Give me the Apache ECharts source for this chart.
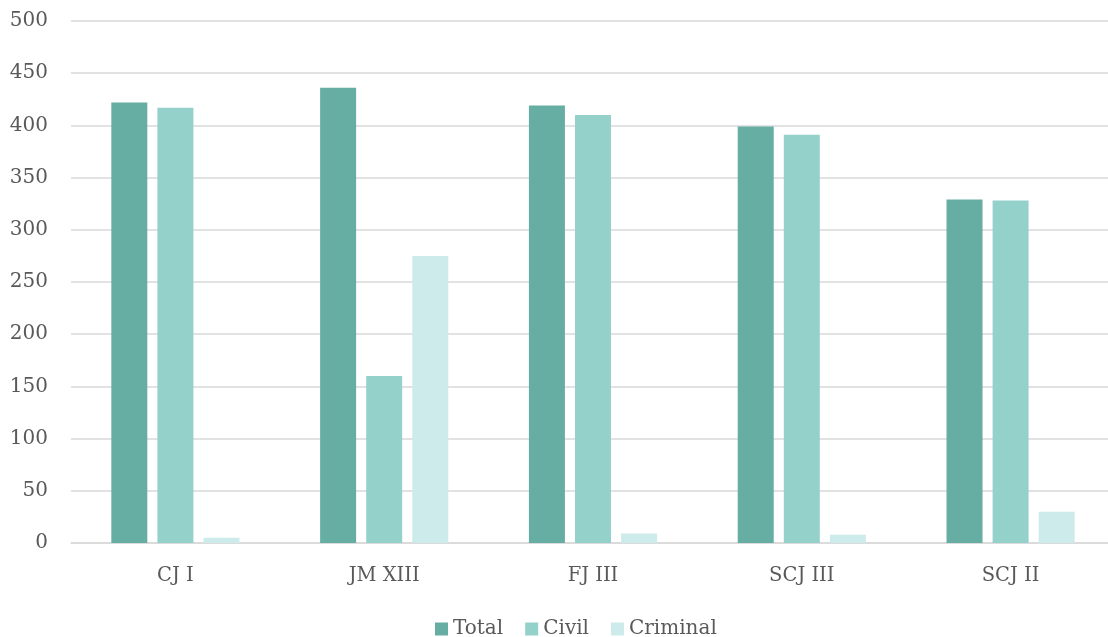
<!DOCTYPE html>
<html>
<head>
<meta charset="utf-8">
<script src="https://cdn.jsdelivr.net/npm/echarts@6/dist/echarts.min.js"></script>
<style>
  html, body { margin: 0; padding: 0; background: #ffffff; }
  #chart { width: 1108px; height: 637px; }
</style>
</head>
<body>
<div id="chart"></div>
<script>
// Case counts per judge, split by type
const categories = ['CJ I', 'JM XIII', 'FJ III', 'SCJ III', 'SCJ II'];
const totalValues = [422, 436, 419, 399, 329];
const civilValues = [417, 160, 410, 391, 328];
const criminalValues = [5, 275, 9, 8, 30];
const seriesNames = ['Total', 'Civil', 'Criminal'];

const FONT = '"DejaVu Serif", "Liberation Serif", serif';
const TEXT = '#595959';
const GRID = '#d9d9d9';

const chart = echarts.init(document.getElementById('chart'), null, { renderer: 'canvas' });

chart.setOption({
  animation: false,
  backgroundColor: '#ffffff',
  // plot area runs slightly past the right edge of the canvas
  grid: { left: 71, top: 21, width: 1044, bottom: 94, containLabel: false, outerBoundsMode: 'none' },
  legend: {
    data: seriesNames,
    top: 614,
    left: 430,
    itemWidth: 13,
    itemHeight: 13,
    itemGap: 22,
    icon: 'rect',
    textStyle: { fontFamily: FONT, fontSize: 20, color: TEXT, padding: [0, 0, 0, 0] }
  },
  xAxis: {
    type: 'category',
    data: categories,
    axisLine: { lineStyle: { color: GRID, width: 1.5 } },
    axisTick: { show: false },
    axisLabel: { fontFamily: FONT, fontSize: 19.5, color: TEXT, margin: 23 }
  },
  yAxis: {
    type: 'value',
    min: 0,
    max: 500,
    interval: 50,
    axisLine: { show: false },
    axisTick: { show: false },
    splitLine: { lineStyle: { color: GRID, width: 1.5 } },
    axisLabel: { fontFamily: FONT, fontSize: 20, color: TEXT, margin: 23 }
  },
  series: [
    { name: seriesNames[0], type: 'bar', data: totalValues, barWidth: 36, barGap: '28%',
      itemStyle: { color: '#66ada4' } },
    { name: seriesNames[1], type: 'bar', data: civilValues, barWidth: 36, barGap: '28%',
      itemStyle: { color: '#94d1cb' } },
    { name: seriesNames[2], type: 'bar', data: criminalValues, barWidth: 36, barGap: '28%',
      itemStyle: { color: '#cdebea' } }
  ]
});
</script>
</body>
</html>
